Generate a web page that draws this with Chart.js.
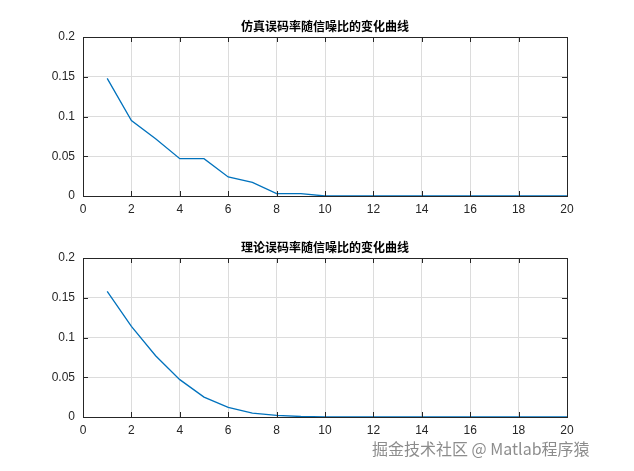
<!DOCTYPE html>
<html>
<head>
<meta charset="utf-8">
<script src="https://cdn.jsdelivr.net/npm/chart.js@4"></script>
<style>
  body { margin: 0; background: #fff; width: 634px; height: 471px; position: relative; overflow: hidden; font-family: "Noto Sans CJK SC", sans-serif; }
  .box { position: absolute; left: 0; width: 634px; height: 235px; }
  #wm { position: absolute; left: 372px; top: 436px; font-size: 16px; color: rgba(120,120,120,0.85); }
</style>
</head>
<body>
<div class="box" style="top:0"><canvas id="simChart"></canvas></div>
<div class="box" style="top:221px"><canvas id="theoryChart"></canvas></div>
<div id="wm">掘金技术社区 @ Matlab程序猿</div>
<script>
// SNR (dB) and BER values
const snr = [1, 2, 3, 4, 5, 6, 7, 8, 9, 10, 11, 12, 13, 14, 15, 16, 17, 18, 19, 20];
const simBer = [0.148, 0.095, 0.072, 0.047, 0.047, 0.024, 0.017, 0.003, 0.003, 0, 0, 0, 0, 0, 0, 0, 0, 0, 0, 0];
const theoryBer = [0.158, 0.114, 0.077, 0.047, 0.025, 0.012, 0.005, 0.002, 0.0006, 0.0002, 0, 0, 0, 0, 0, 0, 0, 0, 0, 0];
const xTicks = [0, 2, 4, 6, 8, 10, 12, 14, 16, 18, 20];
const yTicks = [0, 0.05, 0.1, 0.15, 0.2];

// Matlab-style closed box, inward ticks and a title centred over the plot area
const boxPlugin = {
  id: 'box',
  afterDraw(chart, args, opts) {
    const a = chart.chartArea, ctx = chart.ctx;
    ctx.save();
    ctx.strokeStyle = '#262626';
    ctx.lineWidth = 1;
    ctx.strokeRect(a.left + 0.5, a.top + 0.5, a.right - a.left, a.bottom - a.top);
    ctx.beginPath();
    xTicks.forEach(v => {
      const x = Math.round(chart.scales.x.getPixelForValue(v)) + 0.5;
      ctx.moveTo(x, a.bottom); ctx.lineTo(x, a.bottom - 5);
      ctx.moveTo(x, a.top); ctx.lineTo(x, a.top + 5);
    });
    yTicks.forEach(v => {
      const y = Math.round(chart.scales.y.getPixelForValue(v)) + 0.5;
      ctx.moveTo(a.left, y); ctx.lineTo(a.left + 5, y);
      ctx.moveTo(a.right, y); ctx.lineTo(a.right - 5, y);
    });
    ctx.stroke();
    ctx.fillStyle = '#000';
    ctx.font = 'bold 12px "Noto Sans CJK SC"';
    ctx.textAlign = 'center';
    ctx.textBaseline = 'bottom';
    ctx.fillText(opts.text, (a.left + a.right) / 2, a.top - 5);
    ctx.restore();
  }
};

function makeChart(id, title, values) {
  new Chart(document.getElementById(id), {
    type: 'line',
    data: {
      datasets: [{
        data: snr.map((x, i) => ({ x: x, y: values[i] })),
        borderColor: '#0072BD',
        borderWidth: 1.3,
        pointRadius: 0,
        tension: 0
      }]
    },
    options: {
      responsive: true,
      maintainAspectRatio: false,
      animation: false,
      layout: { padding: { right: 67, left: 0, bottom: 0, top: 37 } },
      plugins: {
        legend: { display: false },
        tooltip: { enabled: false },
        title: { display: false },
        box: { text: title }
      },
      scales: {
        x: {
          type: 'linear', min: 0, max: 20,
          afterBuildTicks: s => { s.ticks = xTicks.map(v => ({ value: v })); },
          afterFit: s => { s.height = 39; },
          grid: { color: '#dcdcdc', drawTicks: false },
          border: { color: '#262626' },
          ticks: { color: '#262626', font: { size: 12, family: 'Arial' }, padding: 6, maxRotation: 0 }
        },
        y: {
          min: 0, max: 0.2,
          afterBuildTicks: s => { s.ticks = yTicks.map(v => ({ value: v })); },
          afterFit: s => { s.width = 83; },
          grid: { color: '#dcdcdc', drawTicks: false },
          border: { color: '#262626' },
          ticks: { color: '#262626', font: { size: 12, family: 'Arial' }, padding: 8, callback: v => String(+v.toFixed(2)) }
        }
      }
    },
    plugins: [boxPlugin]
  });
}

makeChart('simChart', '仿真误码率随信噪比的变化曲线', simBer);
makeChart('theoryChart', '理论误码率随信噪比的变化曲线', theoryBer);
</script>
</body>
</html>
